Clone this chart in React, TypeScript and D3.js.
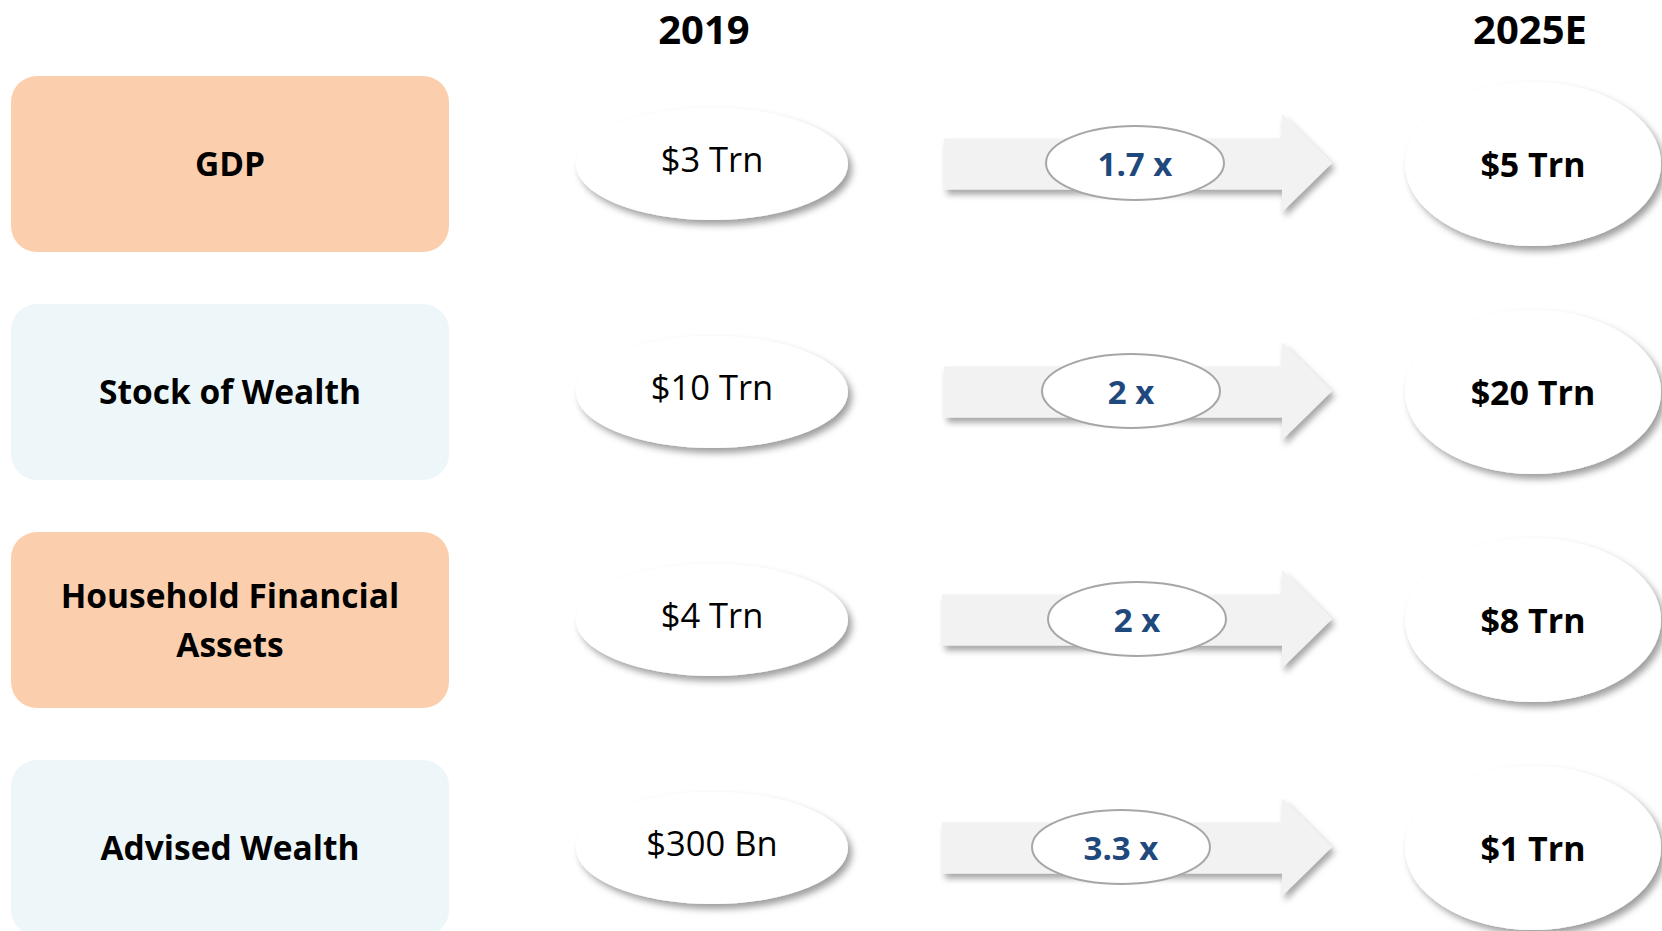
import React from "react";
import * as d3 from "d3";

const categories: string[] = ["GDP", "Stock of Wealth", "Household Financial Assets", "Advised Wealth"];
const categoryLines: string[][] = [["GDP"], ["Stock of Wealth"], ["Household Financial", "Assets"], ["Advised Wealth"]];
const values2019: string[] = ["$3 Trn", "$10 Trn", "$4 Trn", "$300 Bn"];
const values2025: string[] = ["$5 Trn", "$20 Trn", "$8 Trn", "$1 Trn"];
const multipliers: string[] = ["1.7 x", "2 x", "2 x", "3.3 x"];
const headers: string[] = ["2019", "2025E"];

// layout-only tweaks (horizontal offsets of the multiplier badge / arrow start per row)
const multShift: number[] = [2, -2, 4, -12];
const arrowShift: number[] = [0, 0, -2, -2];

const W = 1662;
const H = 931;
const FONT = "'Open Sans', 'Noto Sans', sans-serif";

export default function App() {
  const y = d3.scalePoint<string>().domain(categories).range([164, 848]);
  const x = d3
    .scaleOrdinal<string, number>()
    .domain(["label", "v2019", "arrow", "mult", "v2025"])
    .range([230, 712, 944, 1133, 1533]);

  const boxW = 438;
  const boxH = 176;
  const peach = "#FBCFAD";
  const blue = "#EDF6F8";

  const arrowPath = (x0: number, cy: number) => {
    const p = d3.path();
    const bodyEnd = 1282;
    const tip = 1332;
    p.moveTo(x0, cy - 25.5);
    p.lineTo(bodyEnd, cy - 25.5);
    p.lineTo(bodyEnd, cy - 50);
    p.lineTo(tip, cy - 1);
    p.lineTo(bodyEnd, cy + 48);
    p.lineTo(bodyEnd, cy + 25.5);
    p.lineTo(x0, cy + 25.5);
    p.closePath();
    return p.toString();
  };

  return (
    <svg
      width={W}
      height={H}
      viewBox={`0 0 ${W} ${H}`}
      style={{ position: "absolute", left: 0, top: 0, background: "#fff" }}
    >
      <defs>
        <filter id="shadow" x="-20%" y="-30%" width="150%" height="170%">
          <feDropShadow dx="4" dy="5" stdDeviation="3.5" floodColor="#000" floodOpacity="0.38" />
        </filter>
        <filter id="shadowArrow" x="-10%" y="-30%" width="130%" height="170%">
          <feDropShadow dx="3" dy="5" stdDeviation="3" floodColor="#000" floodOpacity="0.35" />
        </filter>
      </defs>

      {headers.map((h, i) => (
        <text
          key={h}
          x={i === 0 ? 704 : 1530}
          y={43.5}
          textAnchor="middle"
          fontFamily={FONT}
          fontWeight={700}
          fontSize={40}
          fill="#000"
        >
          {h}
        </text>
      ))}

      {categories.map((c, i) => {
        const cy = y(c) as number;
        const lines = categoryLines[i];
        const lh = 49;
        return (
          <g key={c}>
            <rect
              x={11}
              y={cy - boxH / 2}
              width={boxW}
              height={boxH}
              rx={26}
              ry={26}
              fill={i % 2 === 0 ? peach : blue}
            />
            {lines.map((ln, j) => (
              <text
                key={ln}
                x={x("label")}
                y={cy + 12 + (j - (lines.length - 1) / 2) * lh}
                textAnchor="middle"
                fontFamily={FONT}
                fontWeight={700}
                fontSize={33.5}
                fill="#000"
              >
                {ln}
              </text>
            ))}

            <ellipse cx={x("v2019")} cy={cy} rx={136} ry={56} fill="#fff" filter="url(#shadow)" />
            <text
              x={x("v2019")}
              y={cy + 8}
              textAnchor="middle"
              fontFamily={FONT}
              fontSize={34.5}
              fill="#000"
            >
              {values2019[i]}
            </text>

            <path d={arrowPath(x("arrow") + arrowShift[i], cy)} fill="#F2F2F2" filter="url(#shadowArrow)" />
            <ellipse
              cx={x("mult") + multShift[i]}
              cy={cy - 1}
              rx={89}
              ry={37}
              fill="#fff"
              stroke="#A6A6A6"
              strokeWidth={2}
            />
            <text
              x={x("mult") + multShift[i]}
              y={cy + 12}
              textAnchor="middle"
              fontFamily={FONT}
              fontWeight={700}
              fontSize={33}
              fill="#1F497D"
            >
              {multipliers[i]}
            </text>

            <ellipse cx={x("v2025")} cy={cy} rx={128} ry={82} fill="#fff" filter="url(#shadow)" />
            <text
              x={x("v2025")}
              y={cy + 13}
              textAnchor="middle"
              fontFamily={FONT}
              fontWeight={700}
              fontSize={34}
              fill="#000"
            >
              {values2025[i]}
            </text>
          </g>
        );
      })}
    </svg>
  );
}
